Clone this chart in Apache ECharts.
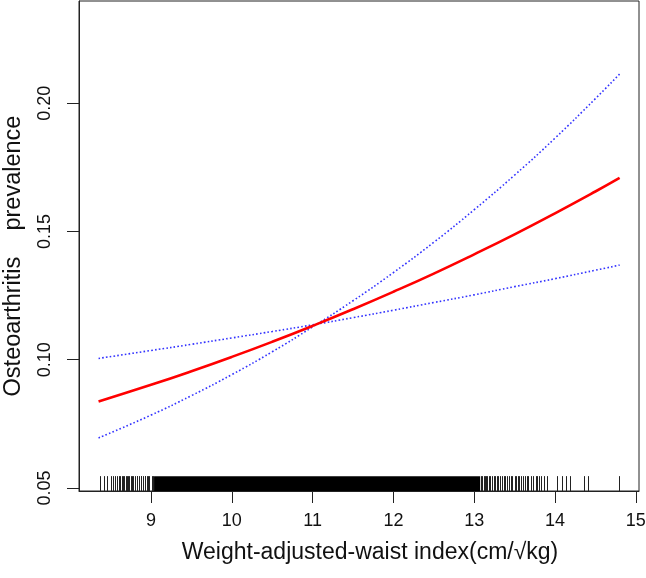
<!DOCTYPE html>
<html>
<head>
<meta charset="utf-8">
<script src="https://cdn.jsdelivr.net/npm/echarts@6/dist/echarts.min.js"></script>
<style>
html,body{margin:0;padding:0;background:#fff;}
#chart{width:646px;height:578px;}
</style>
</head>
<body>
<div id="chart"></div>
<script>
// ---- data ----
const xValues   = [8.35, 9.0, 9.5, 10.0, 10.5, 11.0, 11.5, 12.0, 12.5, 13.0, 13.5, 14.0, 14.5, 14.8];
const fitValues = [0.0837, 0.0902, 0.0955, 0.1011, 0.1070, 0.1132, 0.1197, 0.1265, 0.1336, 0.1411, 0.1489, 0.1571, 0.1656, 0.1709];
const ciA       = [0.1005, 0.1036, 0.1060, 0.1085, 0.1110, 0.1136, 0.1164, 0.1193, 0.1223, 0.1253, 0.1285, 0.1316, 0.1349, 0.1369];
const ciB       = [0.0695, 0.0784, 0.0860, 0.0942, 0.1031, 0.1128, 0.1230, 0.1340, 0.1458, 0.1585, 0.1720, 0.1864, 0.2018, 0.2114];
const rugTicks  = [8.368, 8.418, 8.459, 8.501, 8.533, 8.554,
  8.58, 8.60, 8.62, 8.64, 8.65, 8.67, 8.69, 8.70, 8.72, 8.73, 8.75, 8.77, 8.78, 8.80, 8.82, 8.83, 8.85, 8.87, 8.88, 8.90, 8.92, 8.93, 8.95, 8.963, 8.98, 9.009, 9.02,
  13.09, 13.10, 13.12, 13.13, 13.15, 13.16, 13.18, 13.20, 13.22, 13.24, 13.26, 13.28, 13.30, 13.32, 13.35, 13.37, 13.38, 13.41, 13.43, 13.45, 13.47, 13.50, 13.52, 13.54, 13.56, 13.58, 13.60, 13.63, 13.65, 13.67, 13.70, 13.73, 13.76, 13.78, 13.80, 13.83, 13.86, 13.90,
  14.024, 14.086, 14.139, 14.189, 14.362, 14.403, 14.79];
const rugDense  = [[9.037, 13.074]];
const xTicks    = [9, 10, 11, 12, 13, 14, 15];
const yTicks    = [0.05, 0.10, 0.15, 0.20];
const xRange    = [8.108, 15.04];
const yRange    = [0.0488, 0.2399];
const rugTop    = 0.0546;

const toPairs = (xs, ys) => xs.map((x, i) => [x, ys[i]]);

const chart = echarts.init(document.getElementById('chart'), null, {renderer: 'canvas'});
const FONT = 'Liberation Sans, Arial, sans-serif';

chart.setOption({
  animation: false,
  backgroundColor: '#fff',
  grid: {left: 79, top: 1, right: 7, bottom: 87, show: true, borderColor: '#222', borderWidth: 1,
    backgroundColor: 'transparent', containLabel: false, outerBoundsMode: 'none'},
  xAxis: {
    type: 'value', min: xRange[0], max: xRange[1],
    name: 'Weight-adjusted-waist index(cm/\u221Akg)',
    nameLocation: 'middle', nameGap: 50,
    nameTextStyle: {fontFamily: FONT, fontSize: 23, color: '#111', padding: [0, 0, 0, 22]},
    axisLine: {show: true, lineStyle: {color: '#222', width: 1}},
    axisTick: {show: true, inside: false, length: 12, customValues: xTicks, lineStyle: {color: '#222', width: 1}},
    axisLabel: {show: true, customValues: xTicks, margin: 21, fontFamily: FONT, fontSize: 18, color: '#111'},
    splitLine: {show: false}
  },
  yAxis: {
    type: 'value', min: yRange[0], max: yRange[1],
    name: 'Osteoarthritis    prevalence',
    nameLocation: 'middle', nameGap: 53, nameRotate: 90,
    nameTextStyle: {fontFamily: FONT, fontSize: 23.5, color: '#111', padding: [0, 20, 0, 0]},
    axisLine: {show: true, lineStyle: {color: '#222', width: 1}},
    axisTick: {show: true, inside: false, length: 12, customValues: yTicks, lineStyle: {color: '#222', width: 1}},
    axisLabel: {show: true, customValues: yTicks, rotate: 90, margin: 25, fontFamily: FONT, fontSize: 18, color: '#111',
      formatter: v => v.toFixed(2)},
    splitLine: {show: false}
  },
  series: [
    {type: 'line', data: toPairs(xValues, ciA), smooth: true, showSymbol: false, z: 2,
      lineStyle: {color: '#3333ff', width: 1.6, type: [1.6, 2.2]}},
    {type: 'line', data: toPairs(xValues, ciB), smooth: true, showSymbol: false, z: 2,
      lineStyle: {color: '#3333ff', width: 1.6, type: [1.6, 2.2]}},
    {type: 'line', data: toPairs(xValues, fitValues), smooth: true, showSymbol: false, z: 3,
      lineStyle: {color: '#ff0000', width: 2.6}},
    {type: 'custom', data: rugTicks.map(x => [x]), z: 4, clip: true,
      renderItem: (params, api) => {
        const p0 = api.coord([api.value(0), yRange[0]]);
        const p1 = api.coord([api.value(0), rugTop]);
        return {type: 'line', shape: {x1: Math.round(p0[0]) + 0.5, y1: p0[1], x2: Math.round(p1[0]) + 0.5, y2: p1[1]},
          style: {stroke: '#222', lineWidth: 1}};
      }},
    {type: 'custom', data: rugDense, z: 4, clip: true,
      renderItem: (params, api) => {
        const p0 = api.coord([api.value(0), yRange[0]]);
        const p1 = api.coord([api.value(1), rugTop]);
        return {type: 'rect', shape: {x: p0[0], y: p1[1], width: p1[0] - p0[0], height: p0[1] - p1[1]},
          style: {fill: '#000'}};
      }}
  ]
});
</script>
</body>
</html>
